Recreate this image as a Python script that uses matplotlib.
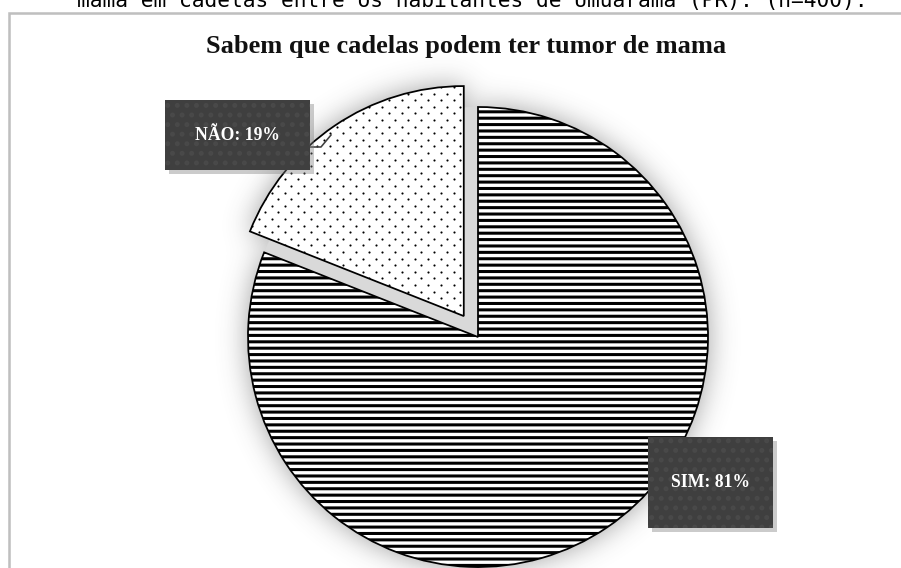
import numpy as np
import matplotlib
matplotlib.use('Agg')
import matplotlib.pyplot as plt
from matplotlib.patches import Rectangle

# ---- data ----
labels = ['SIM', 'NÃO']
values = [81, 19]
title = 'Sabem que cadelas podem ter tumor de mama'
caption = 'mama em cadelas entre os habitantes de Umuarama (PR). (n=400).'

W, H, DPI = 901, 568, 115
plt.rcParams['hatch.linewidth'] = 1.9
fig = plt.figure(figsize=(W / DPI, H / DPI), dpi=DPI)
ax = fig.add_axes([0, 0, 1, 1])

cx, cy, R = 478, 231, 230
explode_frac = [0, 0.11]
explode = [e * R for e in explode_frac]

# ---- soft shadow around the pie ----
frac = np.array(values) / sum(values)
nao_a0, nao_a1 = 90.0, 90.0 + 360 * frac[1]
mid = np.deg2rad((nao_a0 + nao_a1) / 2)
ox, oy = explode[1] * np.cos(mid), explode[1] * np.sin(mid)
yy, xx = np.mgrid[0:H, 0:W] + 0.5
th = np.degrees(np.arctan2(yy - cy, xx - cx)) % 360
in_nao_range = (th >= nao_a0) & (th <= nao_a1)
sim_mask = ((xx - cx) ** 2 + (yy - cy) ** 2 <= R ** 2) & ~in_nao_range
th2 = np.degrees(np.arctan2(yy - cy - oy, xx - cx - ox)) % 360
nao_mask = ((xx - cx - ox) ** 2 + (yy - cy - oy) ** 2 <= R ** 2) & (th2 >= nao_a0) & (th2 <= nao_a1)
mask = (sim_mask | nao_mask).astype(float)
sig = 14
k = np.exp(-0.5 * (np.arange(-3 * sig, 3 * sig + 1) / sig) ** 2)
k /= k.sum()
blur = np.apply_along_axis(lambda r: np.convolve(r, k, mode='same'), 1, mask)
blur = np.apply_along_axis(lambda c: np.convolve(c, k, mode='same'), 0, blur)
img = np.zeros((H, W, 4))
img[..., :3] = 0.3
img[..., 3] = 0.55 * blur
ax.imshow(img, origin='lower', extent=(0, W, 0, H), zorder=0, interpolation='bilinear')

# gap under the exploded slice
ax.pie(values, colors=['none', '#d9d9d9'], startangle=90, counterclock=False,
       center=(cx, cy), radius=R, wedgeprops=dict(linewidth=0, zorder=1))

# main pie
wedges, _ = ax.pie(values, colors=['white', 'white'], startangle=90, counterclock=False,
                   center=(cx, cy), radius=R, explode=explode, hatch=['---', ''],
                   wedgeprops=dict(edgecolor='black', linewidth=1.1, zorder=2))

# dotted texture for NÃO slice
gx, gy = np.meshgrid(np.arange(200, 500, 13.0), np.arange(250, 500, 6.6))
gx = gx + (np.arange(gx.shape[0])[:, None] % 2) * 6.5
dots = ax.scatter(gx.ravel(), gy.ravel(), s=1.8, color='black', linewidths=0, zorder=3)
dots.set_clip_path(wedges[1])
wedges[1].set_zorder(2.5)
wedges[1].set_facecolor('none')
ax.pie(values, colors=['none', 'white'], startangle=90, counterclock=False,
       center=(cx, cy), radius=R, explode=explode, wedgeprops=dict(linewidth=0, zorder=1.5))

ax.set_xlim(0, W)
ax.set_ylim(0, H)
ax.set_aspect('auto')
ax.axis('off')

# frame
ax.add_patch(Rectangle((9, -20), 1100, (H - 13) + 20, fill=False, edgecolor='#bfbfbf',
                       linewidth=1.6, zorder=0.5))

# caption (cut at the top, as in the source) and title
ax.text(472, H - 7, caption, family='DejaVu Sans Mono', fontsize=13.3, ha='center',
        va='baseline', color='black', zorder=5)
ax.text(466, H - 47, title, family='Liberation Serif', fontweight='bold', fontsize=16.5,
        ha='center', va='center', color='#111111', zorder=5)

# label boxes
boxes = {'NÃO': (165, 310, 100, 170), 'SIM': (648, 773, 437, 528)}
for lab, v in zip(labels, values):
    x0, x1, y0, y1 = boxes[lab]
    ax.add_patch(Rectangle((x0 + 4, H - y1 - 4), x1 - x0, y1 - y0, facecolor='#7f7f7f',
                           alpha=0.4, edgecolor='none', zorder=6))
    ax.add_patch(Rectangle((x0, H - y1), x1 - x0, y1 - y0, facecolor='#3f3f3f',
                           edgecolor='#494949', hatch='..', linewidth=0, zorder=7))
    ax.text((x0 + x1) / 2, H - (y0 + y1) / 2, f'{lab}: {v}%', family='Liberation Serif',
            fontweight='bold', fontsize=11, color='white', ha='center', va='center', zorder=8)

# leader line for NÃO
ax.plot([310, 321, 331], [H - 147, H - 147, H - 135], color='#3f3f3f', lw=1, zorder=5)

fig.savefig('out.png', dpi=DPI)
